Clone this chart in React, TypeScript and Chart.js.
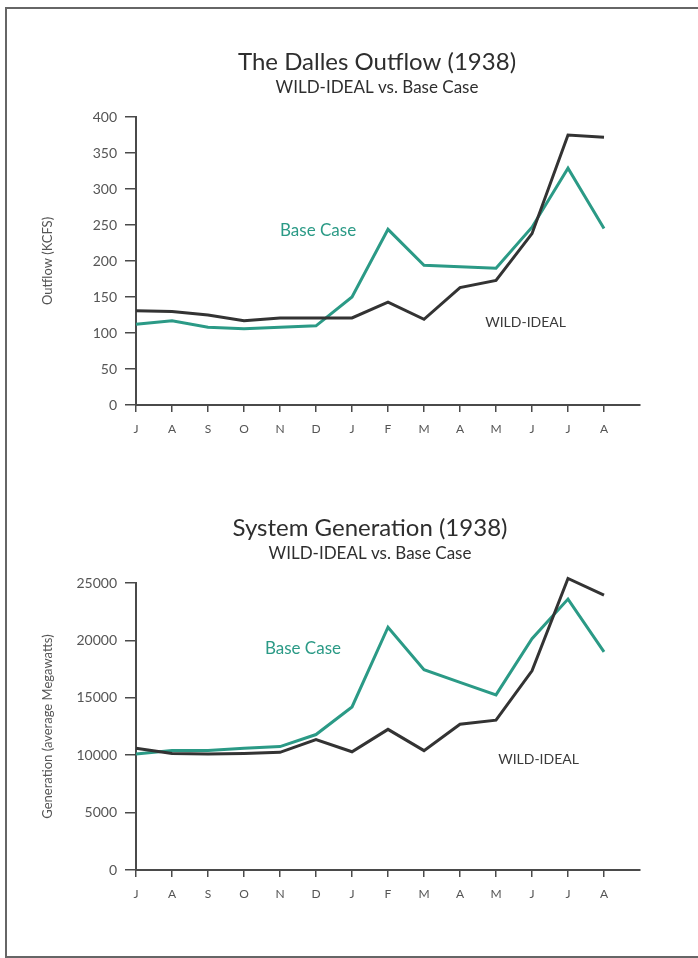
import React, { useEffect, useRef } from "react";
import { Chart, registerables } from "chart.js";

Chart.register(...registerables);

const months = ["J", "A", "S", "O", "N", "D", "J", "F", "M", "A", "M", "J", "J", "A"];

const outflowBase = [112, 117, 108, 106, 108, 110, 150, 244, 194, 192, 190, 247, 329, 245];
const outflowWild = [131, 130, 125, 117, 121, 121, 121, 143, 119, 163, 173, 238, 375, 372];

const genBase = [10100, 10400, 10400, 10600, 10750, 11800, 14200, 21150, 17450, 16350, 15250, 20150, 23600, 19000];
const genWild = [10600, 10150, 10100, 10150, 10250, 11350, 10300, 12250, 10400, 12700, 13050, 17350, 25400, 23950];

const TEAL = "#2b9a86";
const DARK = "#333333";
const AXIS = "#4a4a4a";
const FONT = "Lato, 'Open Sans', sans-serif";

type Cfg = {
  title: string;
  subtitle: string;
  titleX: number;
  titleY: number;
  yTitle: string;
  yMax: number;
  yStep: number;
  base: number[];
  wild: number[];
  baseLabel: { x: number; y: number };
  wildLabel: { x: number; y: number };
  padTop: number;
  padBottom: number;
  height: number;
  xAxisH: number;
};

function LineChart({ cfg }: { cfg: Cfg }) {
  const ref = useRef<HTMLCanvasElement>(null);
  useEffect(() => {
    if (!ref.current) return;
    const toPts = (arr: number[]) => arr.map((v, i) => ({ x: i, y: v }));
    const textPlugin = {
      id: "texts",
      afterDraw(chart: any) {
        const ctx = chart.ctx;
        const xs = chart.scales.x;
        const ys = chart.scales.y;
        ctx.save();
        ctx.textAlign = "center";
        ctx.textBaseline = "middle";
        ctx.fillStyle = "#2e2e2e";
        ctx.font = `24px ${FONT}`;
        ctx.fillText(cfg.title, cfg.titleX, cfg.titleY);
        ctx.font = `17px ${FONT}`;
        ctx.fillText(cfg.subtitle, cfg.titleX, cfg.titleY + 26);
        ctx.textAlign = "left";
        ctx.fillStyle = TEAL;
        ctx.font = `17px ${FONT}`;
        ctx.fillText("Base Case", xs.getPixelForValue(cfg.baseLabel.x), ys.getPixelForValue(cfg.baseLabel.y));
        ctx.fillStyle = "#3a3a3a";
        ctx.font = `14px ${FONT}`;
        ctx.fillText("WILD-IDEAL", xs.getPixelForValue(cfg.wildLabel.x), ys.getPixelForValue(cfg.wildLabel.y));
        ctx.restore();
      },
    };
    const chart = new Chart(ref.current, {
      type: "line",
      data: {
        datasets: [
          {
            label: "WILD-IDEAL",
            data: toPts(cfg.wild),
            borderColor: DARK,
            borderWidth: 3,
            pointRadius: 0,
            tension: 0,
            clip: false,
          },
          {
            label: "Base Case",
            data: toPts(cfg.base),
            borderColor: TEAL,
            borderWidth: 3,
            pointRadius: 0,
            tension: 0,
            clip: false,
          },
        ],
      },
      options: {
        responsive: false,
        animation: false,
        layout: { padding: { top: cfg.padTop, right: 58, left: 0, bottom: cfg.padBottom } },
        plugins: { legend: { display: false }, tooltip: { enabled: false } },
        scales: {
          x: {
            type: "linear",
            min: 0,
            max: 14,
            afterBuildTicks: (s: any) => {
              s.ticks = months.map((_, i) => ({ value: i }));
            },
            afterFit: (s: any) => {
              s.height = cfg.xAxisH;
            },
            ticks: {
              stepSize: 1,
              autoSkip: false,
              maxRotation: 0,
              padding: 10,
              color: "#555",
              font: { family: FONT, size: 12 },
              callback: (v: any) => months[v as number] ?? "",
            },
            grid: { drawOnChartArea: false, drawTicks: true, tickLength: 7, color: AXIS, lineWidth: 1.5 },
            border: { display: true, color: AXIS, width: 2 },
          },
          y: {
            min: 0,
            max: cfg.yMax,
            afterFit: (s: any) => {
              s.width = 136;
            },
            ticks: {
              stepSize: cfg.yStep,
              padding: 8,
              color: "#555",
              font: { family: FONT, size: 14 },
              callback: (v: any) => String(v),
            },
            grid: { drawOnChartArea: false, drawTicks: true, tickLength: 11, color: AXIS, lineWidth: 1.5 },
            border: { display: true, color: AXIS, width: 2 },
            title: {
              display: true,
              text: cfg.yTitle,
              color: "#555",
              font: { family: FONT, size: 13 },
              padding: { top: 40, bottom: 0 },
            },
          },
        },
      },
      plugins: [textPlugin],
    } as any);
    return () => chart.destroy();
  }, [cfg]);
  return <canvas ref={ref} width={698} height={cfg.height} style={{ display: "block" }} />;
}

const topCfg: Cfg = {
  title: "The Dalles Outflow (1938)",
  subtitle: "WILD-IDEAL vs. Base Case",
  titleX: 377,
  titleY: 62,
  yTitle: "Outflow (KCFS)",
  yMax: 400,
  yStep: 50,
  base: outflowBase,
  wild: outflowWild,
  baseLabel: { x: 4.0, y: 243 },
  wildLabel: { x: 9.7, y: 115 },
  padTop: 117,
  padBottom: 25,
  height: 470,
  xAxisH: 40,
};

const bottomCfg: Cfg = {
  title: "System Generation (1938)",
  subtitle: "WILD-IDEAL vs. Base Case",
  titleX: 370,
  titleY: 58,
  yTitle: "Generation (average Megawatts)",
  yMax: 25000,
  yStep: 5000,
  base: genBase,
  wild: genWild,
  baseLabel: { x: 3.58, y: 19250 },
  wildLabel: { x: 10.06, y: 9670 },
  padTop: 113,
  padBottom: 48,
  height: 488,
  xAxisH: 40,
};

export default function App() {
  return (
    <div style={{ position: "fixed", left: 0, top: 0, width: 698, height: 958, background: "#fff", overflow: "hidden" }}>
      <div style={{ position: "absolute", left: 0, top: 0 }}>
        <LineChart cfg={topCfg} />
      </div>
      <div style={{ position: "absolute", left: 0, top: 470 }}>
        <LineChart cfg={bottomCfg} />
      </div>
      <div
        style={{
          position: "absolute",
          left: 5,
          top: 7,
          width: 700,
          height: 947,
          borderTop: "2px solid #666",
          borderLeft: "2px solid #666",
          borderBottom: "2px solid #666",
          pointerEvents: "none",
        }}
      />
    </div>
  );
}
